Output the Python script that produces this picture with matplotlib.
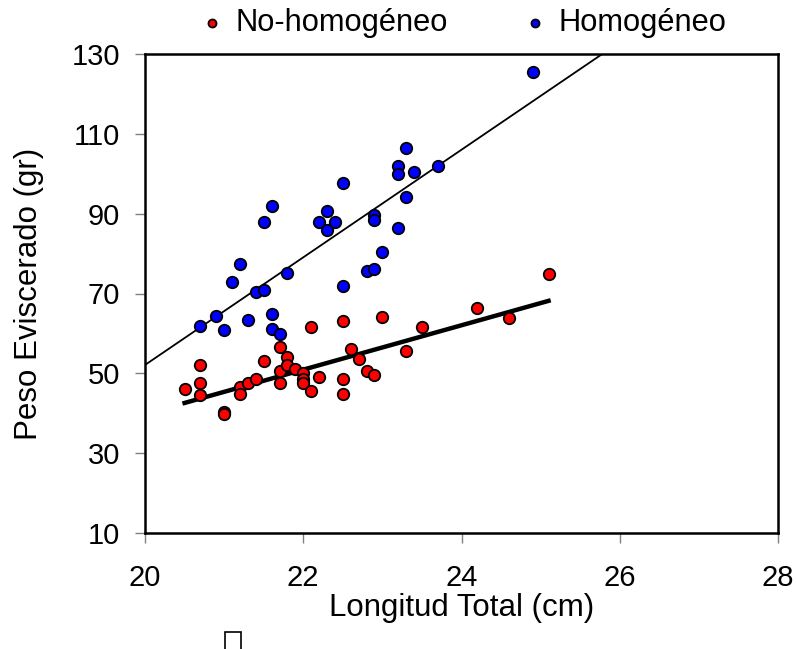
import matplotlib

matplotlib.use("Agg")
import matplotlib.pyplot as plt
import numpy as np
from matplotlib.patches import Rectangle

plt.rcParams["font.family"] = ["Liberation Sans", "DejaVu Sans"]

# Longitud total (cm) / peso eviscerado (gr)
NOHOM_X = [20.5, 20.7, 20.7, 20.7, 21.0, 21.0, 21.2, 21.2, 21.3, 21.4, 21.5, 21.7,
           21.7, 21.7, 21.8, 21.8, 21.9, 22.0, 22.0, 22.0, 22.1, 22.1, 22.2, 22.5,
           22.5, 22.5, 22.6, 22.7, 22.8, 22.9, 23.0, 23.3, 23.5, 24.2, 24.6, 25.1]
NOHOM_Y = [46.0, 52.0, 47.5, 44.5, 40.3, 39.8, 46.5, 44.8, 47.5, 48.5, 53.0, 56.5,
           50.5, 47.5, 54.0, 52.0, 51.0, 50.0, 48.7, 47.5, 61.5, 45.5, 49.0, 63.0,
           48.5, 44.8, 56.0, 53.5, 50.5, 49.5, 64.0, 55.5, 61.5, 66.4, 63.9, 75.0]

HOM_X = [20.7, 20.9, 21.0, 21.1, 21.2, 21.3, 21.4, 21.5, 21.5, 21.6, 21.6, 21.6,
         21.7, 21.8, 22.2, 22.3, 22.3, 22.4, 22.5, 22.5, 22.8, 22.9, 22.9, 22.9,
         23.0, 23.2, 23.2, 23.2, 23.3, 23.3, 23.4, 23.7, 24.9]
HOM_Y = [61.9, 64.4, 60.9, 72.9, 77.4, 63.4, 70.4, 70.9, 87.9, 91.9, 64.9, 61.1,
         59.9, 75.1, 87.9, 90.7, 85.9, 87.9, 97.7, 71.9, 75.6, 76.1, 89.7, 88.4,
         80.4, 101.9, 99.9, 86.4, 106.4, 94.2, 100.4, 101.9, 125.5]

# trend lines as drawn in the reference (intercept at x=20, slope)
HOM_LINE = (52.1, 13.48)
NOHOM_LINE = (39.8, 5.56)

fig = plt.figure(figsize=(7.97, 6.49), dpi=100)
ax = fig.add_axes([145 / 797, 116 / 649, 633 / 797, 479 / 649])

ax.scatter(NOHOM_X, NOHOM_Y, s=68, c="#ff0000", edgecolors="black", linewidths=1.3,
           zorder=3, label="No-homogéneo")
ax.scatter(HOM_X, HOM_Y, s=68, c="#0000ff", edgecolors="black", linewidths=1.3,
           zorder=3, label="Homogéneo")

xh = np.array([20.0, 28.0])
ax.plot(xh, HOM_LINE[0] + HOM_LINE[1] * (xh - 20), color="black", lw=1.3, zorder=2)
xr = np.array([min(NOHOM_X), max(NOHOM_X)])
ax.plot(xr, NOHOM_LINE[0] + NOHOM_LINE[1] * (xr - 20), color="black", lw=3.2, zorder=2)

ax.set_xlim(20, 28)
ax.set_ylim(10, 130)
ax.set_xticks(np.arange(20, 29, 2))
ax.set_yticks(np.arange(10, 131, 20))
ax.tick_params(direction="out", length=7, width=1, color="#808080", labelsize=21)
ax.tick_params(axis="x", pad=15)
ax.tick_params(axis="y", pad=11)
for sp in ax.spines.values():
    sp.set_linewidth(1.8)
ax.set_xlabel("Longitud Total (cm)", fontsize=22.5)
ax.xaxis.set_label_coords(0.5, -0.125)
ax.set_ylabel("Peso Eviscerado (gr)", fontsize=22.5)
ax.yaxis.set_label_coords(-0.16, 0.5)

fig.legend(loc="upper center", bbox_to_anchor=(0.581, 1.03), ncol=2, frameon=False,
           fontsize=22.2, markerscale=0.7, handlelength=0.8, handletextpad=0.35,
           columnspacing=2.42)

fig.patches.append(Rectangle((225 / 797, -0.01), 16 / 797, 17 / 649 + 0.01,
                             transform=fig.transFigure, fill=False, ec="black", lw=1.2))

fig.savefig("out.png", dpi=100)
